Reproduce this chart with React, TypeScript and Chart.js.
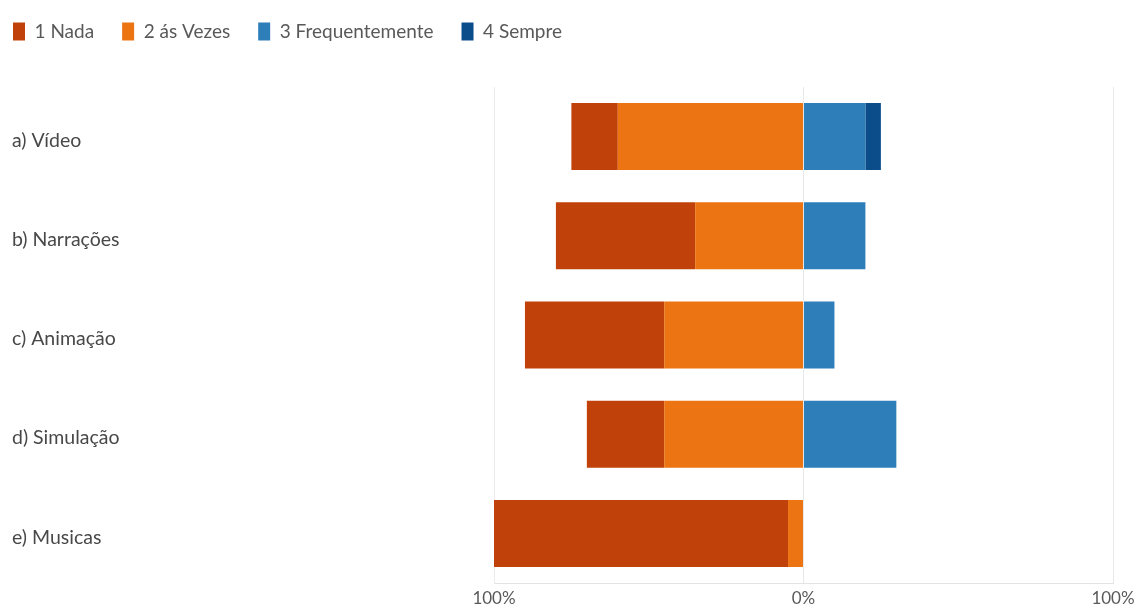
import { useEffect, useRef } from 'react';
import { Chart, registerables } from 'chart.js';

Chart.register(...registerables);

const categories = ['a) Vídeo', 'b) Narrações', 'c) Animação', 'd) Simulação', 'e) Musicas'];
const seriesNames = ['1 Nada', '2 ás Vezes', '3 Frequentemente', '4 Sempre'];
const nada = [15, 45, 45, 25, 95];
const asVezes = [60, 35, 45, 45, 5];
const frequentemente = [20, 20, 10, 30, 0];
const sempre = [5, 0, 0, 0, 0];
const xTickValues = [-100, 0, 100];

const colors = ['#C0420A', '#EC7412', '#2E7EBA', '#0B4C8A'];

const FONT = 'Lato, "Open Sans", sans-serif';

export default function App() {
  const ref = useRef<HTMLCanvasElement | null>(null);

  useEffect(() => {
    document.body.style.overflow = 'hidden';
    if (!ref.current) return;

    const legendTweak = {
      id: 'legendTweak',
      beforeInit(chart: any) {
        const legend = chart.legend;
        if (!legend) return;
        const orig = legend.fit;
        legend.fit = function () {
          orig.call(legend);
          legend.height += 22;
        };
      },
      afterLayout(chart: any) {
        const legend = chart.legend;
        if (!legend) return;
        legend.left -= 27;
        legend.top -= 14;
      },
    };

    // negative side stacks outward from zero in dataset order: às Vezes first, then Nada
    const chart = new Chart(ref.current, {
      type: 'bar',
      data: {
        labels: categories,
        datasets: [
          {
            label: seriesNames[1],
            data: asVezes.map((v) => -v),
            backgroundColor: colors[1],
            legendRank: 1,
          } as any,
          {
            label: seriesNames[0],
            data: nada.map((v) => -v),
            backgroundColor: colors[0],
            legendRank: 0,
          } as any,
          {
            label: seriesNames[2],
            data: frequentemente,
            backgroundColor: colors[2],
            legendRank: 2,
          } as any,
          {
            label: seriesNames[3],
            data: sempre,
            backgroundColor: colors[3],
            legendRank: 3,
          } as any,
        ],
      },
      options: {
        indexAxis: 'y',
        animation: false,
        responsive: true,
        maintainAspectRatio: false,
        datasets: {
          bar: {
            barPercentage: 0.675,
            categoryPercentage: 1,
            borderWidth: 0,
          },
        },
        layout: {
          padding: { left: 4, right: 21, top: 0, bottom: 0 },
        },
        plugins: {
          legend: {
            position: 'top',
            align: 'start',
            labels: {
              boxWidth: 12,
              boxHeight: 18,
              padding: 28,
              color: '#595959',
              font: { family: FONT, size: 19 },
              sort: (a: any, b: any, data: any) =>
                data.datasets[a.datasetIndex].legendRank - data.datasets[b.datasetIndex].legendRank,
            },
          },
          tooltip: {
            callbacks: {
              label: (ctx: any) => `${ctx.dataset.label}: ${Math.abs(ctx.raw)}%`,
            },
          },
        },
        scales: {
          x: {
            stacked: true,
            min: -100,
            max: 100,
            afterBuildTicks: (axis: any) => {
              axis.ticks = xTickValues.map((v) => ({ value: v }));
            },
            afterFit: (axis: any) => {
              axis.height = 29;
              axis.paddingLeft = 0;
              axis.paddingRight = 0;
            },
            grid: {
              color: '#e8e8e8',
              drawTicks: false,
            },
            border: { display: true, color: '#e3e3e3' },
            ticks: {
              padding: 5,
              color: '#595959',
              font: { family: FONT, size: 17 },
              callback: (v: any) => `${Math.abs(Number(v))}%`,
            },
          },
          y: {
            stacked: true,
            afterFit: (axis: any) => {
              axis.width = 482;
            },
            grid: { display: false },
            border: { display: true, color: '#ececec' },
            ticks: {
              crossAlign: 'far',
              labelOffset: 4,
              color: '#484848',
              font: { family: FONT, size: 19.5 },
            },
          },
        },
      } as any,
      plugins: [legendTweak],
    });

    return () => chart.destroy();
  }, []);

  return (
    <div style={{ position: 'relative', width: 1126, height: 604 }}>
      <canvas ref={ref} />
    </div>
  );
}
